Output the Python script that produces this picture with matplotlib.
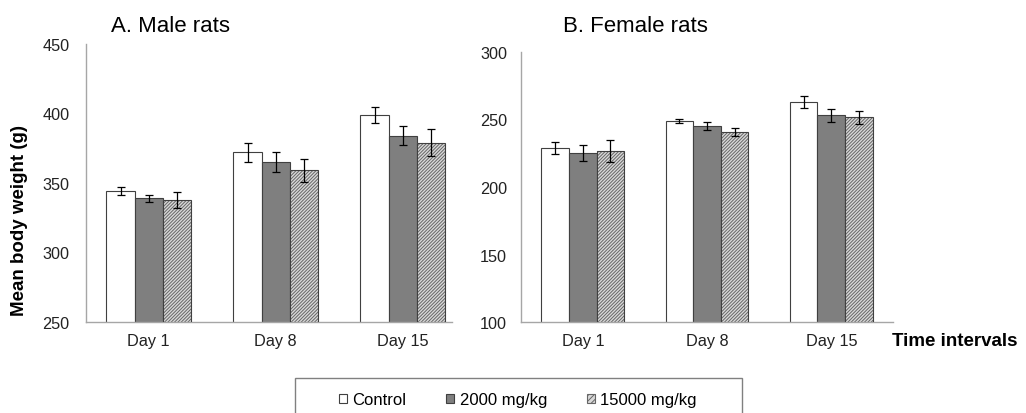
import matplotlib.pyplot as plt
from matplotlib.patches import Patch, Rectangle
import numpy as np

plt.rcParams['font.family'] = ['Liberation Sans', 'DejaVu Sans']
plt.rcParams['hatch.linewidth'] = 0.7

days = ["Day 1", "Day 8", "Day 15"]
groups = ["Control", "2000 mg/kg", "15000 mg/kg"]

# male rats: mean body weight (g) and error
male_control = [344, 372, 399]
male_2000 = [339, 365, 384]
male_15000 = [337.5, 359, 379]
male_control_err = [2.9, 7, 6]
male_2000_err = [2.6, 7, 7]
male_15000_err = [5.8, 8.6, 9.6]

# female rats
female_control = [229, 249, 262.5]
female_2000 = [225, 245, 253]
female_15000 = [226.5, 240.5, 251.5]
female_control_err = [4.4, 1.6, 4.4]
female_2000_err = [5.8, 2.7, 4.7]
female_15000_err = [8.1, 3.0, 4.7]

EDGE = '#404040'
DARK = '#7f7f7f'
HATCH_BG = '#d9d9d9'
HATCH_FG = '#666666'
SPINE = '#a6a6a6'
HATCH = '/' * 10

fig = plt.figure(figsize=(10.26, 4.14), dpi=100)
axA = fig.add_axes([86/1026, 1-323/414, 366/1026, 278/414])
axB = fig.add_axes([521/1026, 1-323.3/414, 372/1026, 270.6/414])


def draw(ax, vals, errs, ylim, xlim, ypad):
    x = np.arange(len(days))
    w = 0.222
    ekw = dict(ecolor='black', elinewidth=0.9, capsize=3, capthick=0.9)
    c, d, h = vals
    ce, de, he = errs
    ax.bar(x - w, c, w, color='white', edgecolor=EDGE, linewidth=0.8,
           yerr=ce, error_kw=ekw, zorder=2)
    ax.bar(x, d, w, color=DARK, edgecolor=EDGE, linewidth=0.8,
           yerr=de, error_kw=ekw, zorder=2)
    # hatched bars: hatch drawn with edge colour, outline on top
    ax.bar(x + w, h, w, color=HATCH_BG, edgecolor=HATCH_FG, hatch=HATCH,
           linewidth=0, zorder=2)
    ax.bar(x + w, h, w, fill=False, edgecolor=EDGE, linewidth=0.8,
           yerr=he, error_kw=ekw, zorder=3)
    ax.set_ylim(*ylim)
    ax.set_xlim(*xlim)
    ax.set_xticks(x)
    ax.set_xticklabels(days, fontsize=11.7)
    ax.set_yticks(np.arange(ylim[0], ylim[1] + 1, 50))
    ax.tick_params(axis='y', length=0, pad=ypad, labelsize=11.7, colors='#222222')
    ax.tick_params(axis='x', length=0, pad=8, colors='#222222')
    for s in ['top', 'right']:
        ax.spines[s].set_visible(False)
    for s in ['left', 'bottom']:
        ax.spines[s].set_color(SPINE)
        ax.spines[s].set_linewidth(1)


draw(axA, [male_control, male_2000, male_15000],
     [male_control_err, male_2000_err, male_15000_err],
     (250, 450), (-0.494, 2.388), 12)
draw(axB, [female_control, female_2000, female_15000],
     [female_control_err, female_2000_err, female_15000_err],
     (100, 300), (-0.498, 2.497), 10)

axA.text(0.068, 1 + 13/278, "A. Male rats", transform=axA.transAxes,
         fontsize=16, va='baseline', ha='left')
axB.text(0.114, 1 + 20.4/270.6, "B. Female rats", transform=axB.transAxes,
         fontsize=16, va='baseline', ha='left')

fig.text(20/1026, 1-220/414, "Mean body weight (g)", rotation=90,
         fontsize=13.5, fontweight='bold', ha='center', va='center')
fig.text(892/1026, 1-342/414, "Time intervals", fontsize=13.5,
         fontweight='bold', ha='left', va='center')

handles = [Patch(facecolor='white', edgecolor=EDGE, linewidth=0.8),
           Patch(facecolor=DARK, edgecolor=EDGE, linewidth=0.8),
           Patch(facecolor=HATCH_BG, edgecolor=HATCH_FG, hatch='//////', linewidth=0.8)]
fig.legend(handles, groups, loc='center', bbox_to_anchor=(518/1026, 1-401/414),
           ncol=3, frameon=False, fontsize=12, handlelength=0.45, handleheight=0.45,
           handletextpad=0.35, columnspacing=2.4)
fig.patches.append(Rectangle((295/1026, -0.05), (741.7-295)/1026, 0.05 + 1-379/414,
                             transform=fig.transFigure, fill=False,
                             edgecolor='#808080', linewidth=1))

fig.savefig("out.png", dpi=100)
